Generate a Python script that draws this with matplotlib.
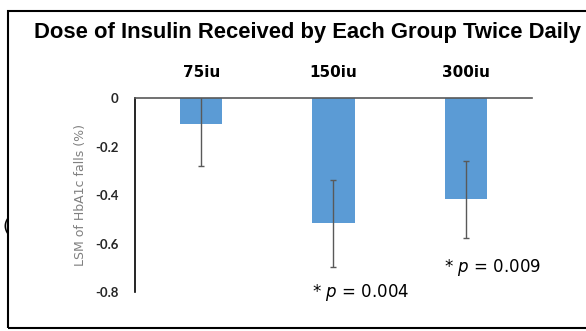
import matplotlib
matplotlib.use("Agg")
import matplotlib.pyplot as plt
from matplotlib.patches import Rectangle

plt.rcParams['mathtext.fontset'] = 'dejavusans'

groups = ['75iu', '150iu', '300iu']
lsm = [-0.106, -0.517, -0.418]
err = [0.174, 0.18, 0.16]
p_labels = ['', '* $p$ = 0.004', '* $p$ = 0.009']
p_pos = [None, (1.205, -0.80), (2.205, -0.70)]
yticks = [0, -0.2, -0.4, -0.6, -0.8]
ytick_labels = ['0', '-0.2', '-0.4', '-0.6', '-0.8']

fig = plt.figure(figsize=(5.86, 3.31), dpi=100)
ax = fig.add_axes([0.2304, 0.1178, 0.6774, 0.5861])

x = range(len(groups))
ax.bar(x, lsm, width=0.32, color='#5B9BD5', zorder=2)
ax.errorbar(x, lsm, yerr=err, fmt='none', ecolor='#595959', elinewidth=1,
            capsize=2.5, capthick=1, zorder=3)

ax.set_xlim(-0.5, 2.5)
ax.set_ylim(-0.8, 0)
ax.xaxis.tick_top()
ax.set_xticks(list(x), groups, fontweight='bold', fontsize=11)
ax.set_yticks(yticks, ytick_labels, fontweight='bold', fontsize=9.5, family='Lato')
ax.tick_params(axis='x', length=0, pad=13)
ax.tick_params(axis='y', length=0, pad=12, colors='#262626')
ax.set_ylabel('LSM of HbA1c falls (%)', color='#808080', fontsize=9, labelpad=6)

ax.spines['bottom'].set_visible(False)
ax.spines['right'].set_visible(False)
ax.spines['top'].set_color('#595959')
ax.spines['top'].set_linewidth(1.2)
ax.spines['left'].set_color('black')
ax.spines['left'].set_linewidth(1.2)

for lab, pos in zip(p_labels, p_pos):
    if pos:
        ax.text(pos[0], pos[1], lab, ha='center', va='center', fontsize=12,
                clip_on=False)

title = fig.text(0.5247, 0.903, 'Dose of Insulin Received by Each Group Twice Daily',
                 ha='center', va='center', fontsize=13, fontweight='bold',
                 family='Liberation Sans')
# fit title width to ~547 px
r = fig.canvas.get_renderer()
w = title.get_window_extent(r).width
title.set_fontsize(13 * 547 / w)

fig.text(0.004, 1 - 227 / 331, '(', ha='left', va='center', fontsize=13)
fig.add_artist(Rectangle((8 / 586, 3 / 331), 1.1, 0.958, transform=fig.transFigure,
                         fill=False, edgecolor='black', linewidth=1.5))

fig.savefig('out.png', dpi=100)
